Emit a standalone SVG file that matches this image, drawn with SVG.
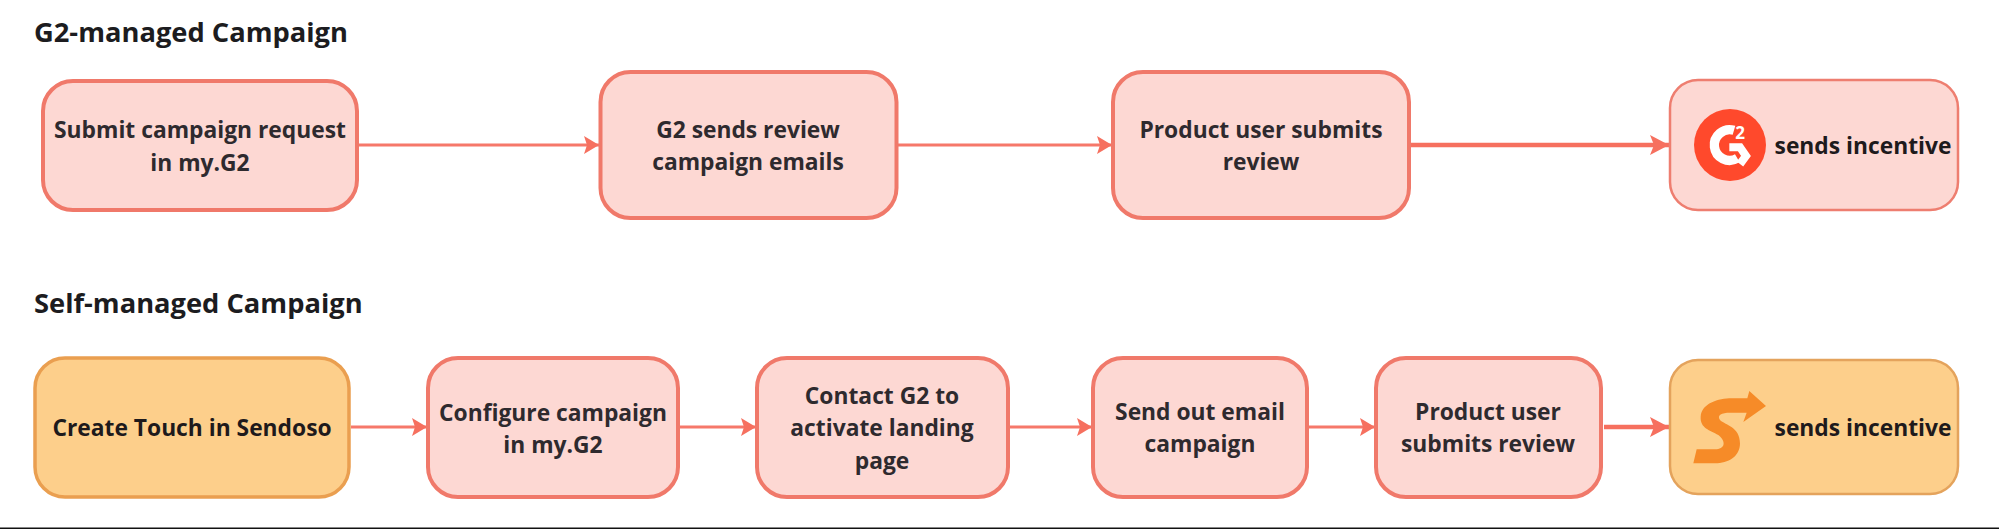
<svg xmlns="http://www.w3.org/2000/svg" width="1999" height="529" viewBox="0 0 1999 529">
<style>
text{font-family:"Open Sans","Noto Sans","Liberation Sans",sans-serif;font-weight:700}
.title{font-size:27.3px;fill:#1c1c20}
.lbl{font-size:22.8px;fill:#2e2a2e;text-anchor:middle}
.dark{fill:#1e1a1c}
.pink{fill:#fdd8d3;stroke:#f0796a;stroke-width:4}
.pinkthin{fill:#fdd8d3;stroke:#ee7e70;stroke-width:2.5}
.orange{fill:#fdcf8b;stroke:#ea9f50;stroke-width:3.5}
.orangethin{fill:#fdcf8b;stroke:#e4a35c;stroke-width:2.5}
.c{fill:none;stroke:#f6786a;stroke-width:3;marker-end:url(#ah)}
.ct{fill:none;stroke:#f6705f;stroke-width:4.5;marker-end:url(#ahb)}
</style>
<defs>
<marker id="ah" markerUnits="userSpaceOnUse" markerWidth="16" markerHeight="20" refX="15" refY="9" orient="auto"><path d="M0 0L15 9L0 18L3 9Z" fill="#f6705f"/></marker>
<marker id="ahb" markerUnits="userSpaceOnUse" markerWidth="20" markerHeight="22" refX="19" refY="10" orient="auto"><path d="M0 0L19 10L0 20L4 10Z" fill="#f6705f"/></marker>
</defs>
<rect width="1999" height="529" fill="#fff"/>
<rect id="bottom-rule" x="0" y="527.5" width="1999" height="1.5" fill="#111"/>
<text class="title" x="34" y="42">G2-managed Campaign</text>
<text class="title" x="34" y="313">Self-managed Campaign</text>
<g id="connectors">
<path class="c" d="M359 145H599"/>
<path class="c" d="M897 145H1112"/>
<path class="ct" d="M1411 145H1669"/>
<path class="c" d="M351 427H427"/>
<path class="c" d="M680 427H756"/>
<path class="c" d="M1010 427H1092"/>
<path class="c" d="M1309 427H1375"/>
<path class="ct" d="M1604 427H1669"/>
</g>
<g id="n1"><rect class="pink" x="43" y="81" width="314" height="129" rx="30"/><text class="lbl" x="200" y="138">Submit campaign request</text><text class="lbl" x="200" y="171">in my.G2</text></g>
<g id="n2"><rect class="pink" x="600.500" y="72" width="296" height="146" rx="30"/><text class="lbl" x="748" y="138">G2 sends review</text><text class="lbl" x="748" y="170">campaign emails</text></g>
<g id="n3"><rect class="pink" x="1113" y="72" width="296" height="146" rx="30"/><text class="lbl" x="1261" y="138">Product user submits</text><text class="lbl" x="1261" y="170">review</text></g>
<g id="n4"><rect class="pinkthin" x="1670" y="80" width="288" height="130" rx="28"/>
<circle cx="1730" cy="145" r="36" fill="#ff492c"/>
<g transform="translate(1660 90) scale(.3333)" fill="none" stroke="#fff">
<path d="M222 121A46 46 0 1 0 232 205" stroke-width="28"/>
<path d="M208 172H240L258 198L240 222" stroke-width="24" stroke-linejoin="miter"/>
</g>
<text x="1740" y="139" font-size="17" fill="#fff" text-anchor="middle">2</text>
<text class="lbl dark" x="1863" y="154">sends incentive</text></g>
<g id="n5"><rect class="orange" x="35" y="358" width="314" height="139" rx="30"/><text class="lbl dark" x="192" y="436">Create Touch in Sendoso</text></g>
<g id="n6"><rect class="pink" x="428" y="358" width="250" height="139" rx="30"/><text class="lbl" x="553" y="421">Configure campaign</text><text class="lbl" x="553" y="453">in my.G2</text></g>
<g id="n7"><rect class="pink" x="757" y="358" width="251" height="139" rx="30"/><text class="lbl" x="882" y="404">Contact G2 to</text><text class="lbl" x="882" y="436">activate landing</text><text class="lbl" x="882" y="469">page</text></g>
<g id="n8"><rect class="pink" x="1093" y="358" width="214" height="139" rx="30"/><text class="lbl" x="1200" y="420">Send out email</text><text class="lbl" x="1200" y="452">campaign</text></g>
<g id="n9"><rect class="pink" x="1376" y="358" width="225" height="139" rx="30"/><text class="lbl" x="1488" y="420">Product user</text><text class="lbl" x="1488" y="452">submits review</text></g>
<g id="n10"><rect class="orangethin" x="1670" y="360" width="288" height="134" rx="28"/>
<path transform="translate(1660 370) scale(.3333)" fill="#f68b28" d="M100 280L110 238H165C195 238 200 215 175 195C150 180 120 175 122 140C125 100 175 85 215 85H262L268 63L318 108L250 156L260 128H210C185 128 170 135 180 150C195 165 240 170 240 220C240 260 205 280 165 280Z"/>
<text class="lbl dark" x="1863" y="436">sends incentive</text></g>
</svg>
